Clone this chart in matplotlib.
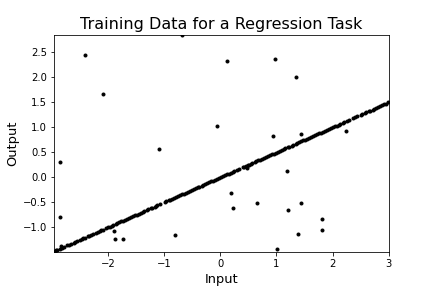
# Datos de entrenamiento para una tarea de regresion
import matplotlib
matplotlib.use('Agg')
import matplotlib.pyplot as plt

# puntos sobre la recta
x_linea = [-2.95, -2.92, -2.90, -2.86, -2.81, -2.78, -2.72, -2.69, -2.66, -2.61,
           -2.58, -2.55, -2.50, -2.47, -2.44, -2.41, -2.36, -2.33, -2.30, -2.27,
           -2.22, -2.18, -2.15, -2.12, -2.09, -2.04, -2.00, -1.97, -1.93, -1.91,
           -1.86, -1.83, -1.80, -1.76, -1.73, -1.70, -1.66, -1.62, -1.59, -1.56,
           -1.52, -1.49, -1.45, -1.42, -1.38, -1.35, -1.31, -1.28, -1.24, -1.21,
           -1.17, -1.14, -1.12, -1.08, -0.99, -0.96, -0.92, -0.89, -0.86, -0.82,
           -0.78, -0.75, -0.72, -0.68, -0.65, -0.61, -0.57, -0.54, -0.51, -0.47,
           -0.44, -0.40, -0.37, -0.33, -0.30, -0.27, -0.23, -0.20, -0.16, -0.13,
           -0.09, -0.06, -0.02, 0.01, 0.05, 0.08, 0.12, 0.15, 0.19, 0.22,
           0.25, 0.29, 0.33, 0.40, 0.43, 0.46, 0.49, 0.51, 0.54, 0.57,
           0.61, 0.64, 0.68, 0.71, 0.75, 0.78, 0.81, 0.85, 0.88, 0.92,
           0.95, 0.99, 1.02, 1.06, 1.09, 1.13, 1.16, 1.20, 1.23, 1.27,
           1.30, 1.34, 1.37, 1.41, 1.44, 1.48, 1.51, 1.55, 1.58, 1.62,
           1.65, 1.69, 1.72, 1.76, 1.79, 1.83, 1.86, 1.90, 1.93, 1.97,
           2.00, 2.04, 2.07, 2.11, 2.14, 2.18, 2.21, 2.25, 2.29, 2.36,
           2.40, 2.44, 2.50, 2.53, 2.57, 2.60, 2.64, 2.67, 2.71, 2.74,
           2.78, 2.81, 2.85, 2.88, 2.92, 2.95, 2.99]
y_linea = [-1.475, -1.46, -1.45, -1.43, -1.405, -1.39, -1.36, -1.345, -1.33, -1.305,
           -1.29, -1.275, -1.25, -1.235, -1.22, -1.205, -1.18, -1.165, -1.15, -1.135,
           -1.11, -1.09, -1.075, -1.06, -1.045, -1.02, -1.00, -0.985, -0.965, -0.955,
           -0.93, -0.915, -0.90, -0.88, -0.865, -0.85, -0.83, -0.81, -0.795, -0.78,
           -0.76, -0.745, -0.725, -0.71, -0.69, -0.675, -0.655, -0.64, -0.62, -0.605,
           -0.585, -0.57, -0.56, -0.54, -0.495, -0.48, -0.46, -0.445, -0.43, -0.41,
           -0.39, -0.375, -0.36, -0.34, -0.325, -0.305, -0.285, -0.27, -0.255, -0.235,
           -0.22, -0.20, -0.185, -0.165, -0.15, -0.135, -0.115, -0.10, -0.08, -0.065,
           -0.045, -0.03, -0.01, 0.005, 0.025, 0.04, 0.06, 0.075, 0.095, 0.11,
           0.125, 0.145, 0.165, 0.20, 0.215, 0.23, 0.245, 0.255, 0.27, 0.285,
           0.305, 0.32, 0.34, 0.355, 0.375, 0.39, 0.405, 0.425, 0.44, 0.46,
           0.475, 0.495, 0.51, 0.53, 0.545, 0.565, 0.58, 0.60, 0.615, 0.635,
           0.65, 0.67, 0.685, 0.705, 0.72, 0.74, 0.755, 0.775, 0.79, 0.81,
           0.825, 0.845, 0.86, 0.88, 0.895, 0.915, 0.93, 0.95, 0.965, 0.985,
           1.00, 1.02, 1.035, 1.055, 1.07, 1.09, 1.105, 1.125, 1.145, 1.18,
           1.20, 1.22, 1.25, 1.265, 1.285, 1.30, 1.32, 1.335, 1.355, 1.37,
           1.39, 1.405, 1.425, 1.44, 1.46, 1.475, 1.495]

# puntos atipicos
x_ruido = [-2.40, -2.08, -0.68, 0.12, 0.98, 1.35, -2.86, -1.09, -0.05, 0.93,
           1.44, 2.23, -2.86, -1.89, -1.87, -1.73, -0.80, 0.19, 0.23, 0.66,
           1.01, 1.19, 1.21, 1.44, 1.39, 1.81, 1.81, 0.48, -2.83]
y_ruido = [2.44, 1.67, 2.84, 2.32, 2.37, 2.00, 0.31, 0.56, 1.03, 0.83,
           0.87, 0.92, -0.79, -1.07, -1.23, -1.23, -1.15, -0.31, -0.61, -0.51,
           -1.43, 0.13, -0.65, -0.51, -1.13, -0.83, -1.05, 0.19, -1.38]

fig = plt.figure(figsize=(6, 4), dpi=72)
plt.subplots_adjust(left=0.125, right=0.9, top=0.878, bottom=0.125)
plt.plot(x_linea + x_ruido, y_linea + y_ruido, 'k.')
plt.xlim(-2.96, 3)
plt.ylim(-1.49, 2.84)
plt.title("Training Data for a Regression Task", fontsize=16)
plt.xlabel("Input", fontsize=13)
plt.ylabel("Output", fontsize=13)
plt.savefig('out.png', dpi=72)
